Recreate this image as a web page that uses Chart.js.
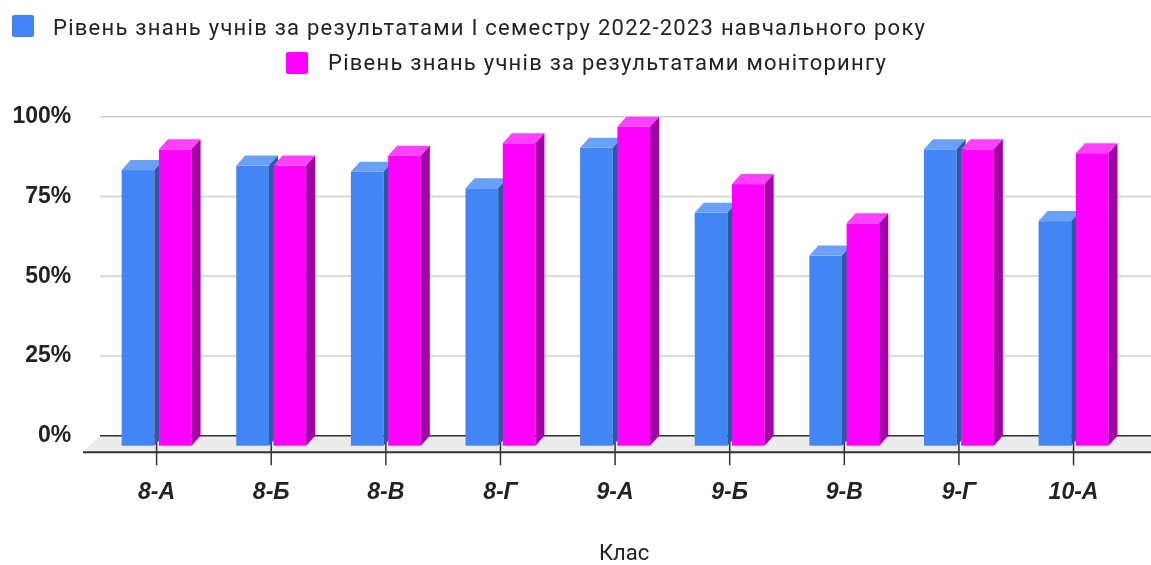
<!DOCTYPE html>
<html lang="uk">
<head>
<meta charset="utf-8">
<script src="https://cdn.jsdelivr.net/npm/chart.js@4"></script>
<style>
  body { margin: 0; background: #fff; }
  #wrap { position: relative; width: 1151px; height: 565px; }
  .leg { position: absolute; font-family: Roboto, sans-serif; font-size: 22px; line-height: 22px; letter-spacing: 1.25px; color: #222; white-space: nowrap; }
  .sw { position: absolute; width: 22px; height: 22px; border-radius: 2px; }
</style>
</head>
<body>
<div id="wrap">
  <canvas id="chart" width="1151" height="565"></canvas>
  <div class="sw" style="left:12px;top:15px;background:#4285f4"></div>
  <div class="leg" id="leg1" style="left:53px;top:17px"></div>
  <div class="sw" style="left:286px;top:52px;background:#ff00ff"></div>
  <div class="leg" id="leg2" style="left:328px;top:52px"></div>
</div>
<script>
const classes = ["8-А", "8-Б", "8-В", "8-Г", "9-А", "9-Б", "9-В", "9-Г", "10-А"];
const semesterLevel = [86.4, 87.8, 85.9, 80.7, 93.4, 73.0, 59.6, 92.9, 70.4];
const monitoringLevel = [92.9, 87.8, 90.9, 94.8, 100, 82.0, 69.7, 92.9, 91.7];
const seriesNames = [
  "Рівень знань учнів за результатами І семестру 2022-2023 навчального року",
  "Рівень знань учнів за результатами моніторингу",
];
const yTicks = [0, 25, 50, 75, 100];
const axisTitle = "Клас";

document.getElementById("leg1").textContent = seriesNames[0];
document.getElementById("leg2").textContent = seriesNames[1];

// depth of the fake 3d boxes
const DX = 9, DY = 10;
const faces = [
  { front: "#4285f4", top: "#6aa0f6", side: "#2c5aa2" },
  { front: "#ff00ff", top: "#ff40ff", side: "#a300a6" },
];

const backdrop = {
  id: "backdrop",
  beforeDatasetsDraw(chart) {
    const { ctx, scales: { x, y }, width } = chart;
    const y0 = y.getPixelForValue(0);
    ctx.save();
    // grid at the back wall
    ctx.strokeStyle = "#cfcfcf";
    ctx.lineWidth = 1.5;
    yTicks.forEach(v => {
      if (v === 0) return;
      const py = y.getPixelForValue(v);
      ctx.beginPath();
      ctx.moveTo(100, py);
      ctx.lineTo(width, py);
      ctx.stroke();
    });
    // floor
    const fy = y0 + 16.6;
    ctx.fillStyle = "#ebebeb";
    ctx.beginPath();
    ctx.moveTo(100, y0);
    ctx.lineTo(width, y0);
    ctx.lineTo(width, fy);
    ctx.lineTo(83, fy);
    ctx.closePath();
    ctx.fill();
    ctx.strokeStyle = "#333";
    ctx.lineWidth = 1.5;
    ctx.beginPath();
    ctx.moveTo(100, y0);
    ctx.lineTo(width, y0);
    ctx.stroke();
    ctx.lineWidth = 2;
    ctx.beginPath();
    ctx.moveTo(83, fy);
    ctx.lineTo(width, fy);
    ctx.stroke();
    // category ticks (front plane)
    ctx.lineWidth = 1.5;
    classes.forEach((c, i) => {
      const px = x.getPixelForValue(i) - DX;
      ctx.beginPath();
      ctx.moveTo(px, y0);
      ctx.lineTo(px, fy + 13);
      ctx.stroke();
    });
    ctx.restore();
  },
  afterDatasetsDraw(chart) {
    const { ctx } = chart;
    ctx.save();
    classes.forEach((c, i) => {
      chart.data.datasets.forEach((ds, d) => {
        const bar = chart.getDatasetMeta(d).data[i];
        const f = faces[d];
        const l = bar.x - bar.width / 2 - DX, r = bar.x + bar.width / 2 - DX;
        const t = bar.y + DY, b = bar.base + DY;
        ctx.fillStyle = f.front;
        ctx.fillRect(l, t, r - l, b - t);
        ctx.fillStyle = f.top;
        ctx.beginPath();
        ctx.moveTo(l, t); ctx.lineTo(r, t); ctx.lineTo(r + DX, t - DY); ctx.lineTo(l + DX, t - DY);
        ctx.closePath(); ctx.fill();
        ctx.fillStyle = f.side;
        ctx.beginPath();
        ctx.moveTo(r, t); ctx.lineTo(r + DX, t - DY); ctx.lineTo(r + DX, b - DY); ctx.lineTo(r, b);
        ctx.closePath(); ctx.fill();
      });
    });
    ctx.restore();
  }
};

new Chart(document.getElementById("chart"), {
  type: "bar",
  data: {
    labels: classes,
    datasets: [
      { label: seriesNames[0], data: semesterLevel, backgroundColor: "rgba(0,0,0,0)" },
      { label: seriesNames[1], data: monitoringLevel, backgroundColor: "rgba(0,0,0,0)" },
    ]
  },
  options: {
    responsive: false,
    animation: false,
    events: [],
    layout: { padding: { top: 116.7, right: 9.6, left: 0, bottom: 0 } },
    categoryPercentage: 0.65,
    barPercentage: 0.877,
    plugins: { legend: { display: false }, tooltip: { enabled: false } },
    scales: {
      x: {
        grid: { display: false, drawTicks: false },
        border: { display: false },
        ticks: {
          padding: 43,
          labelOffset: -DX,
          color: "#222",
          font: { family: "'Liberation Sans', Arial, sans-serif", size: 23, weight: "bold", style: "italic" },
        },
        title: {
          display: true,
          text: axisTitle,
          color: "#222",
          padding: { top: 0, bottom: 0 },
          font: { family: "Roboto, sans-serif", size: 22, lineHeight: 1 },
        },
        afterFit(s) { s.height = 129.3; },
      },
      y: {
        min: 0,
        max: 100,
        grid: { display: false, drawTicks: false },
        border: { display: false },
        afterBuildTicks(s) { s.ticks = yTicks.map(v => ({ value: v })); },
        ticks: {
          padding: 37,
          color: "#222",
          font: { family: "'Liberation Sans', Arial, sans-serif", size: 23, weight: "bold" },
          callback: v => v + "%",
        },
        afterFit(s) { s.width = 108.3; },
      }
    }
  },
  plugins: [backdrop]
});
</script>
</body>
</html>
